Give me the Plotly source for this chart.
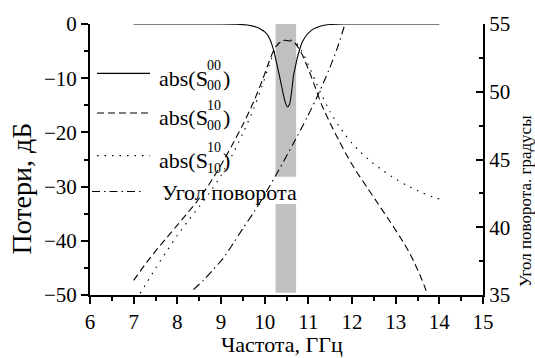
import plotly.graph_objects as go

# ---------------- data ----------------
# abs(S00_00), dB
s00_x = [7.0, 8.0, 9.0, 9.36, 9.6, 9.82, 9.92, 10.01, 10.08, 10.13, 10.19, 10.24, 10.3, 10.36, 10.42, 10.47,
         10.52, 10.57, 10.62, 10.66, 10.7, 10.74, 10.78, 10.82, 10.87, 10.93, 11.0, 11.12, 11.25, 11.43, 11.78, 13.0, 14.0]
s00_y = [0.0, 0.0, 0.0, -0.05, -0.2, -0.6, -1.0, -1.5, -2.2, -3.0, -4.4, -6.0, -8.2, -10.4, -12.7, -14.4,
         -15.3, -14.8, -12.3, -9.5, -8.0, -6.5, -5.3, -4.2, -3.2, -2.4, -1.7, -0.9, -0.45, -0.15, 0.0, 0.0, 0.0]

# abs(S10_00), dB
s10_00_x = [7.0, 7.25, 7.5, 7.75, 8.0, 8.25, 8.5, 8.75, 9.0, 9.25, 9.5, 9.75, 9.95, 10.1, 10.2, 10.3, 10.45,
            10.55, 10.7, 10.85, 11.0, 11.15, 11.3, 11.5, 11.7, 11.9, 12.1, 12.35, 12.6, 12.85, 13.1, 13.3,
            13.45, 13.57, 13.66, 13.72]
s10_00_y = [-47.3, -44.5, -41.9, -39.5, -37.1, -34.7, -32.2, -29.3, -26.0, -22.4, -18.6, -14.3, -10.3, -7.0,
            -5.0, -3.7, -3.0, -3.1, -3.6, -5.5, -8.3, -11.5, -14.8, -18.3, -21.5, -24.5, -27.2, -30.2, -33.2,
            -36.2, -39.3, -42.0, -44.4, -46.6, -48.4, -49.7]

# abs(S10_10), dB
s10_10_x = [7.15, 7.3, 7.5, 7.75, 8.0, 8.25, 8.5, 8.75, 9.0, 9.25, 9.5, 9.75, 9.95, 10.1, 10.2, 10.3, 10.45,
            10.55, 10.7, 10.85, 11.0, 11.15, 11.3, 11.5, 11.7, 11.85, 12.0, 12.19, 12.45, 12.72, 13.0, 13.26,
            13.6, 13.91, 14.0]
s10_10_y = [-49.7, -47.7, -45.1, -42.0, -39.0, -36.3, -33.7, -31.0, -28.0, -24.3, -20.2, -15.6, -11.2, -7.7,
            -5.5, -3.9, -3.0, -2.9, -3.3, -5.0, -7.5, -10.3, -13.0, -16.2, -18.8, -20.5, -22.0, -23.6, -25.5,
            -27.1, -28.6, -29.8, -31.1, -32.1, -32.3]

# rotation angle, degrees (right axis)
ang_x = [8.37, 8.6, 8.8, 9.05, 9.3, 9.52, 9.75, 10.0, 10.32, 10.66, 10.97, 11.24, 11.47, 11.65, 11.83]
ang_y = [35.4, 36.1, 36.8, 37.7, 38.9, 40.0, 41.1, 42.4, 44.2, 46.2, 48.1, 49.9, 51.6, 53.1, 54.9]

# gray band (frequency range) and the part hidden behind the legend
band_x = [10.25, 10.72]
band_y_low = [-49.6, -33.2]
band_y_high = [-28.2, 0.0]

x_ticks = [6, 7, 8, 9, 10, 11, 12, 13, 14, 15]
y_ticks = [0, -10, -20, -30, -40, -50]
y2_ticks = [35, 40, 45, 50, 55]

x_title = "Частота, ГГц"
y_title = "Потери, дБ"
y2_title = "Угол поворота. градусы"

legend_names = ["abs(S", "abs(S", "abs(S", "Угол поворота"]
legend_sup = ["00", "10", "10", None]
legend_sub = ["00", "00", "10", None]

# ---------------- figure ----------------
FONT = "Liberation Serif"
W, H = 535, 358
L, R, T, B = 90, 483, 15, 295   # plot area in pixels

fig = go.Figure()
lw = 1.1
sm = 0.7
fig.add_trace(go.Scatter(x=s00_x, y=s00_y, mode="lines",
                         line=dict(color="black", width=lw, shape="spline", smoothing=sm)))
fig.add_trace(go.Scatter(x=s10_00_x, y=s10_00_y, mode="lines",
                         line=dict(color="black", width=lw, dash="7px,4px", shape="spline", smoothing=sm)))
fig.add_trace(go.Scatter(x=s10_10_x, y=s10_10_y, mode="lines",
                         line=dict(color="black", width=lw, dash="1.5px,6px", shape="spline", smoothing=sm)))
fig.add_trace(go.Scatter(x=ang_x, y=ang_y, mode="lines", yaxis="y2",
                         line=dict(color="black", width=lw, dash="8px,4px,1.5px,4px", shape="spline",
                                   smoothing=sm)))

# gray band
for lo, hi in [(band_y_low[0], band_y_low[1]), (band_y_high[0], band_y_high[1])]:
    fig.add_shape(type="rect", xref="x", yref="y", x0=band_x[0], x1=band_x[1], y0=lo, y1=hi,
                  fillcolor="#c0c0c0", line=dict(width=0), layer="below")

def px2paper(px, py):
    return (px - L) / (R - L), (B - py) / (B - T)

def text_at(txt, px, py, size, xanchor="left", angle=0):
    x, y = px2paper(px, py)
    fig.add_annotation(text=txt, x=x, y=y, xref="paper", yref="paper", xanchor=xanchor, yanchor="middle",
                       showarrow=False, textangle=angle, font=dict(family=FONT, size=size, color="black"))

# manual legend
dashes = ["solid", "7px,4px", "1.5px,6px", "8px,4px,1.5px,4px"]
rows_y = [66, 107, 151, 188]
line_x = [(97, 150), (97, 150), (97, 150), (92, 143)]
for i in range(4):
    xa, ya = px2paper(line_x[i][0], rows_y[i])
    xb, _ = px2paper(line_x[i][1], rows_y[i])
    fig.add_shape(type="line", xref="paper", yref="paper", x0=xa, x1=xb, y0=ya, y1=ya,
                  line=dict(color="black", width=lw, dash=dashes[i]))
    if legend_sup[i] is None:
        text_at(legend_names[i], 160, rows_y[i] + 1, 22)
    else:
        base = rows_y[i] + 5
        text_at(legend_names[i], 157, base, 22)
        text_at(legend_sup[i], 205, base - 13, 14)
        text_at(legend_sub[i], 205, base + 8, 14)
        text_at(")", 221, base, 22)

# axis titles
text_at(x_title, 282, 346, 22, xanchor="center")
text_at(y_title, 22, 185, 28, xanchor="center", angle=-90)
text_at(y2_title, 525, 198, 17, xanchor="center", angle=-90)

axis_common = dict(showgrid=False, zeroline=False, showline=True, linecolor="black", linewidth=2,
                   tickcolor="black", tickwidth=2, ticklen=7,
                   tickfont=dict(family=FONT, size=21, color="black"))

fig.update_layout(
    width=W, height=H,
    margin=dict(l=L, r=W - R, t=T, b=H - B, pad=0),
    paper_bgcolor="white", plot_bgcolor="white",
    showlegend=False,
    font=dict(family=FONT, color="black"),
    xaxis=dict(range=[6, 15], tickvals=x_ticks, ticks="outside", ticklabelstandoff=0,
               minor=dict(dtick=0.5, ticks="outside", ticklen=4, tickwidth=2, tickcolor="black"),
               **axis_common),
    yaxis=dict(range=[-50, 0], tickvals=y_ticks, ticks="outside",
               minor=dict(dtick=5, ticks="outside", ticklen=4, tickwidth=2, tickcolor="black"),
               **axis_common),
    yaxis2=dict(range=[35, 55], tickvals=y2_ticks, ticks="inside", overlaying="y", side="right",
                minor=dict(dtick=2.5, ticks="inside", ticklen=4, tickwidth=2, tickcolor="black"),
                **axis_common),
)

fig.write_html("out.html")
